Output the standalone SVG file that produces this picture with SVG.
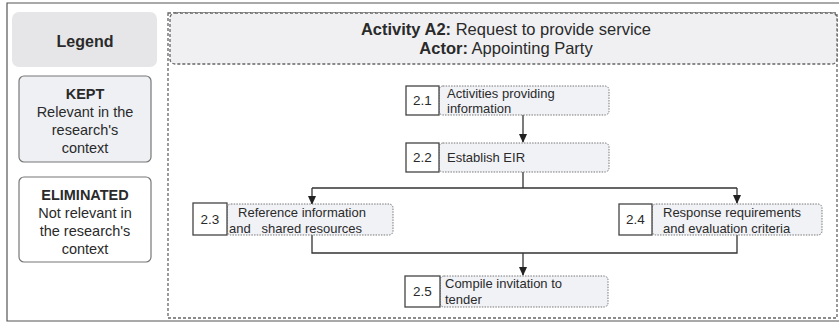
<svg xmlns="http://www.w3.org/2000/svg" width="839" height="322" viewBox="0 0 839 322">
<defs>
<marker id="ah" markerWidth="10" markerHeight="10" refX="8" refY="5" orient="auto" markerUnits="userSpaceOnUse">
<path d="M0,1 L9,5 L0,9 Z" fill="#222"/>
</marker>
<style>
text{font-family:"Liberation Sans",Arial,sans-serif;fill:#2a2a2a}
.num{fill:#fff;stroke:#444;stroke-width:1.3}
.lbl{fill:#f1f2f6;stroke:#777;stroke-width:1;stroke-dasharray:1.5 1.2}
.nt{font-size:13.5px}
.lt{font-size:13px}
.lg{font-size:14.5px;text-anchor:middle}
.conn{fill:none;stroke:#333;stroke-width:1.3}
</style>
</defs>
<rect width="839" height="322" fill="#fff"/>
<path d="M845,3 H7 V321 H845" fill="none" stroke="#555" stroke-width="1.2"/>
<rect x="168" y="13" width="669" height="305" fill="none" stroke="#666" stroke-width="1.3" stroke-dasharray="3 2"/>
<g id="header">
<rect x="170" y="13" width="667" height="51" rx="5" fill="#f0f0f3" stroke="#666" stroke-width="1.3" stroke-dasharray="3 2"/>
<text x="506" y="35" font-size="16.5" text-anchor="middle"><tspan font-weight="bold">Activity A2:</tspan> Request to provide service</text>
<text x="506" y="54" font-size="16.5" text-anchor="middle"><tspan font-weight="bold">Actor:</tspan> Appointing Party</text>
</g>
<g id="legend">
<rect x="12" y="12" width="145" height="55" rx="7" fill="#e6e6e8"/>
<text x="85" y="47" font-size="16" font-weight="bold" text-anchor="middle">Legend</text>
</g>
<g id="legend-kept">
<rect x="19" y="76" width="132" height="86" rx="5" fill="#eef0f4" stroke="#777" stroke-width="1.2"/>
<text class="lg" x="85" y="99" font-weight="bold">KEPT</text>
<text class="lg" x="85" y="117">Relevant in the</text>
<text class="lg" x="85" y="135">research's</text>
<text class="lg" x="85" y="153">context</text>
</g>
<g id="legend-eliminated">
<rect x="19" y="177" width="132" height="85" rx="5" fill="#fff" stroke="#777" stroke-width="1.2"/>
<text class="lg" x="85" y="200" font-weight="bold">ELIMINATED</text>
<text class="lg" x="85" y="218">Not relevant in</text>
<text class="lg" x="85" y="236">the research's</text>
<text class="lg" x="85" y="254">context</text>
</g>
<g id="connectors">
<path class="conn" d="M523,115 V142" marker-end="url(#ah)"/>
<path class="conn" d="M523,172 V188 M312,188 H737"/>
<path class="conn" d="M312,188 V204" marker-end="url(#ah)"/>
<path class="conn" d="M737,188 V203" marker-end="url(#ah)"/>
<path class="conn" d="M312,235 V253 H737 V235"/>
<path class="conn" d="M523,253 V275" marker-end="url(#ah)"/>
</g>
<g id="n21">
<rect class="lbl" x="439" y="86" width="170" height="29" rx="4"/>
<rect class="num" x="406" y="86" width="33" height="29"/>
<text class="nt" x="422.5" y="105" text-anchor="middle">2.1</text>
<text class="lt" x="447" y="98">Activities providing</text>
<text class="lt" x="447" y="113">information</text>
</g>
<g id="n22">
<rect class="lbl" x="439" y="143" width="170" height="29" rx="4"/>
<rect class="num" x="406" y="143" width="33" height="29"/>
<text class="nt" x="422.5" y="162" text-anchor="middle">2.2</text>
<text class="lt" x="447" y="162">Establish EIR</text>
</g>
<g id="n23">
<rect class="lbl" x="227" y="204" width="166" height="31" rx="4"/>
<rect class="num" x="193" y="203" width="34" height="32"/>
<text class="nt" x="210" y="224" text-anchor="middle">2.3</text>
<text class="lt" x="302" y="217" text-anchor="middle">Reference information</text>
<text class="lt" x="229" y="233" xml:space="preserve">and   shared resources</text>
</g>
<g id="n24">
<rect class="lbl" x="652" y="204" width="170" height="31" rx="4"/>
<rect class="num" x="619" y="204" width="33" height="31"/>
<text class="nt" x="635.5" y="224" text-anchor="middle">2.4</text>
<text class="lt" x="663" y="217">Response requirements</text>
<text class="lt" x="663" y="233">and evaluation criteria</text>
</g>
<g id="n25">
<rect class="lbl" x="440" y="276" width="168" height="31" rx="4"/>
<rect class="num" x="405" y="276" width="35" height="31"/>
<text class="nt" x="422.5" y="296" text-anchor="middle">2.5</text>
<text class="lt" x="445" y="288">Compile invitation to</text>
<text class="lt" x="445" y="304">tender</text>
</g>
</svg>
